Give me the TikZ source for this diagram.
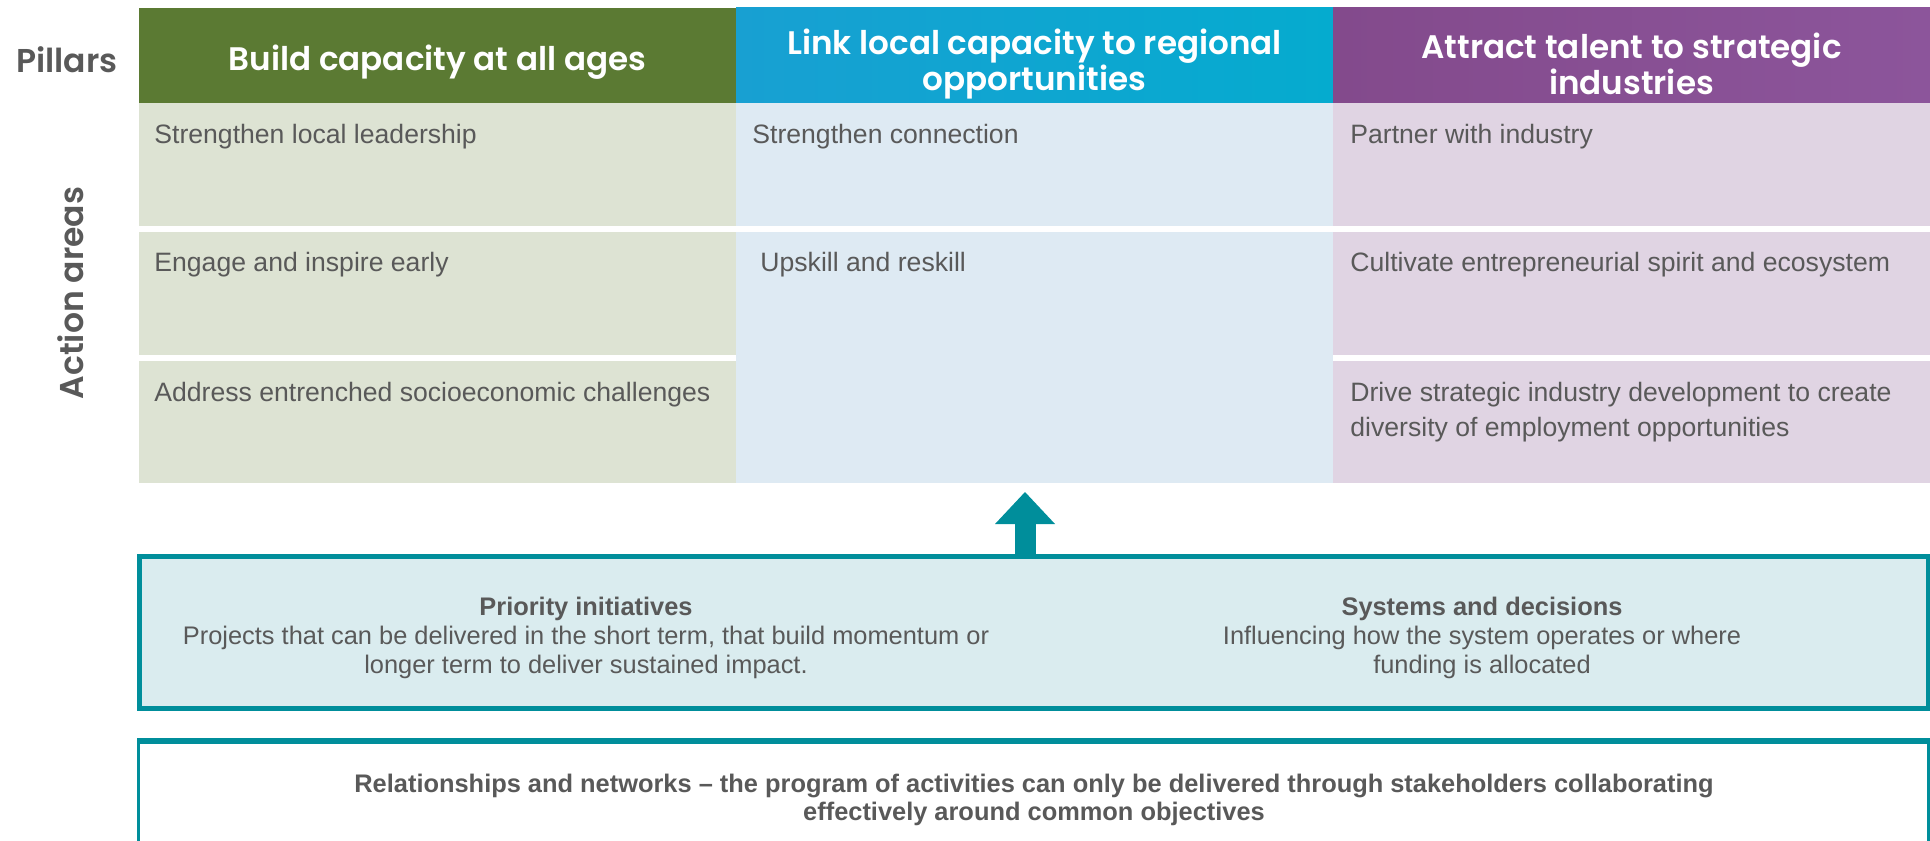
\documentclass[tikz,border=0pt]{standalone}
\usepackage{fontspec}
\setmainfont{Liberation Sans}
\newfontfamily\headfont{Poppins}[BoldFont={Poppins SemiBold}]
\usetikzlibrary{arrows.meta}

\definecolor{txtgray}{HTML}{595959}
\definecolor{hgreen}{HTML}{5B7A33}
\definecolor{hblueL}{HTML}{18A0D2}
\definecolor{hblueR}{HTML}{05ABCF}
\definecolor{hpurpL}{HTML}{834A8C}
\definecolor{hpurpR}{HTML}{8C559B}
\definecolor{bgreen}{HTML}{DDE3D3}
\definecolor{bblue}{HTML}{DEEAF3}
\definecolor{bpurp}{HTML}{E0D4E3}
\definecolor{tealline}{HTML}{008E9B}
\definecolor{tealfill}{HTML}{DAECEF}

\tikzset{
  head/.style={text=white, font=\headfont\bfseries\fontsize{16.3}{14.6}\selectfont, align=center, inner sep=0pt},
  side/.style={text=txtgray, font=\headfont\bfseries\fontsize{16.5}{17}\selectfont, inner sep=0pt},
  cell/.style={text=txtgray, font=\fontsize{13.3}{17.3}\selectfont, anchor=west, align=left, inner sep=0pt},
  boxtext/.style={text=txtgray, font=\fontsize{12.7}{14.5}\selectfont, align=center, inner sep=0pt},
  midbox/.style={draw=tealline, line width=2.5pt, fill=tealfill, anchor=north west,
    minimum width=894.5pt, minimum height=76pt, inner sep=0pt},
  basebox/.style={draw=tealline, line width=1.5pt, fill=white, anchor=north west,
    minimum width=895pt, minimum height=80pt, inner sep=0pt},
  bigarrow/.style={draw=tealline, line width=10.5pt,
    -{Triangle[width=30pt, length=16pt, line width=0pt, fill=tealline]}},
}

\begin{document}
\begin{tikzpicture}[x=0.5pt, y=-0.5pt]
\useasboundingbox (0,0) rectangle (1930,840);
\clip (0,0) rectangle (1930,840);

% pillar headers
\fill[hgreen] (139,8) rectangle (736,103);
\shade[left color=hblueL, right color=hblueR] (736,8) rectangle (1333,103);
\shade[left color=hpurpL, right color=hpurpR] (1333,8) rectangle (1930,103);

% action area cells
\fill[bgreen] (139,103) rectangle (736,226);
\fill[bgreen] (139,232) rectangle (736,355);
\fill[bgreen] (139,361) rectangle (736,483);
\fill[bblue] (736,103) rectangle (1333,226);
\fill[bblue] (736,232) rectangle (1333,483);
\fill[bpurp] (1333,103) rectangle (1930,226);
\fill[bpurp] (1333,232) rectangle (1930,355);
\fill[bpurp] (1333,361) rectangle (1930,483);

% side labels
\node (pillars) [side] at (67,60) {Pillars};
\node (areas) [side, rotate=90] at (71,293) {Action areas};

% header texts
\node (h1) [head] at (437.5,62) {Build capacity at all ages};
\node (h2) [head] at (1034.5,64) {Link local capacity to regional\\opportunities};
\node (h3) [head] at (1631.5,64) {Attract talent to strategic\\industries};

% cell texts
\node (a11) [cell] at (154,137) {Strengthen local leadership};
\node (a12) [cell] at (752,137) {Strengthen connection};
\node (a13) [cell] at (1350,137) {Partner with industry};
\node (a21) [cell] at (154,265) {Engage and inspire early};
\node (a22) [cell] at (760,265) {Upskill and reskill};
\node (a23) [cell] at (1350,265) {Cultivate entrepreneurial spirit and ecosystem};
\node (a31) [cell] at (154,395) {Address entrenched socioeconomic challenges};
\node (a33) [cell] at (1350,412) {Drive strategic industry development to create\\diversity of employment opportunities};

% enabling layers
\node (mid) [midbox] at (137,553.5) {};
\node (base) [basebox] at (137,740.5) {};
\draw[tealline, line width=2.5pt] (base.north west) -- (base.north east);

\node (pri) [boxtext] at (586,638) {\textbf{Priority initiatives}\\Projects that can be delivered in the short term, that build momentum or\\longer term to deliver sustained impact.};
\node (sys) [boxtext] at (1482,638) {\textbf{Systems and decisions}\\Influencing how the system operates or where\\funding is allocated};
\node (rel) [boxtext, font=\bfseries\fontsize{12.7}{14}\selectfont] at (1034,800) {Relationships and networks – the program of activities can only be delivered through stakeholders collaborating\\effectively around common objectives};

% upward arrow into the action areas
\coordinate (tip) at (1025,492);
\draw[bigarrow] (tip |- mid.north) -- (tip);
\end{tikzpicture}
\end{document}
